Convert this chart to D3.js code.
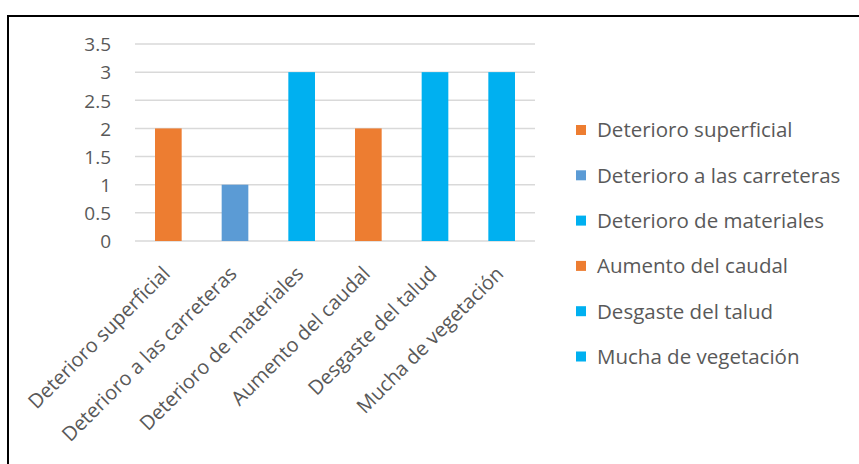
<!DOCTYPE html>
<html><head><meta charset="utf-8">
<script src="https://cdn.jsdelivr.net/npm/d3@7"></script>
<style>body{margin:0;background:#fff}svg{display:block}</style>
</head><body>
<svg id="c" width="859" height="464"></svg>
<script>
const categories = ["Deterioro superficial","Deterioro a las carreteras","Deterioro de materiales","Aumento del caudal","Desgaste del talud","Mucha de vegetación"];
const values = [2, 1, 3, 2, 3, 3];
const colors = ["#ED7D31","#5B9BD5","#00B0F0","#ED7D31","#00B0F0","#00B0F0"];
const yTicks = [0, 0.5, 1, 1.5, 2, 2.5, 3, 3.5];

const svg = d3.select("#c");
const font = "'Open Sans', 'Liberation Sans', sans-serif";
const textColor = "#595959";

// outer border (top & left visible)
svg.append("path").attr("d","M8,464 L8,16 L859,16").attr("fill","none").attr("stroke","#000").attr("stroke-width",2);

const x = d3.scaleBand().domain(categories).range([135, 535]).paddingInner(0.6).paddingOuter(0.3);
const y = d3.scaleLinear().domain([0, 3.5]).range([241, 44]);

// gridlines
svg.append("g").selectAll("line").data(yTicks).join("line")
  .attr("x1",135).attr("x2",535).attr("y1",d=>y(d)).attr("y2",d=>y(d))
  .attr("stroke","#d9d9d9").attr("stroke-width",1.5);

// y axis labels
const yAxis = d3.axisLeft(y).tickValues(yTicks).tickSize(0).tickPadding(0).tickFormat(d3.format("~g"));
const ya = svg.append("g").attr("transform","translate(111,0)").call(yAxis);
ya.select(".domain").remove();
ya.selectAll("text").attr("font-family",font).attr("font-size",19).attr("fill",textColor).attr("dy","0.36em");

// bars
svg.append("g").selectAll("rect").data(categories).join("rect")
  .attr("x",d=>x(d)).attr("width",x.bandwidth())
  .attr("y",(d,i)=>y(values[i])).attr("height",(d,i)=>y(0)-y(values[i]))
  .attr("fill",(d,i)=>colors[i]);

// x axis labels
const xAxis = d3.axisBottom(x).tickSize(0).tickPadding(0);
const xa = svg.append("g").attr("transform","translate(0,241)").call(xAxis);
xa.select(".domain").remove();
xa.selectAll("text").attr("font-family",font).attr("font-size",20).attr("fill",textColor)
  .attr("text-anchor","end").attr("dy",null).attr("y",0)
  .attr("transform","translate(3,34) rotate(-45)");

// legend
const lg = svg.append("g").selectAll("g").data(categories).join("g")
  .attr("transform",(d,i)=>`translate(576,${130 + i*45.3})`);
lg.append("rect").attr("x",0).attr("y",-5).attr("width",10).attr("height",10).attr("fill",(d,i)=>colors[i]);
lg.append("text").attr("x",21).attr("dy","0.36em").attr("font-family",font).attr("font-size",20.5)
  .attr("fill",textColor).text(d=>d);
</script>
</body></html>
